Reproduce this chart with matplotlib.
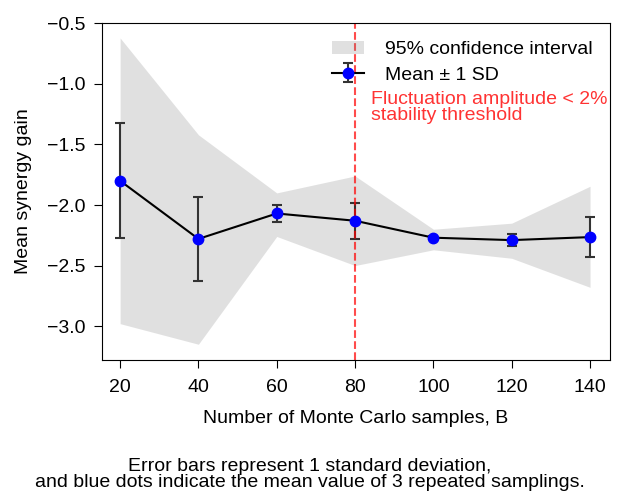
import matplotlib
matplotlib.use("Agg")
import matplotlib.pyplot as plt

plt.rcParams['font.family'] = ['Liberation Sans', 'DejaVu Sans']
plt.rcParams['font.size'] = 14

# Monte Carlo sample counts and results over 3 repeated samplings
samples_B = [20, 40, 60, 80, 100, 120, 140]
mean_gain = [-1.80, -2.28, -2.07, -2.13, -2.27, -2.29, -2.265]
sd_gain = [0.475, 0.35, 0.073, 0.15, 0.012, 0.05, 0.165]
ci_upper = [-0.62, -1.42, -1.90, -1.76, -2.20, -2.15, -1.845]
ci_lower = [-2.98, -3.15, -2.26, -2.50, -2.37, -2.44, -2.68]
threshold_B = 80

fig = plt.figure(figsize=(6.19, 4.93), dpi=100)
ax = fig.add_axes([0.1643, 0.2698, 0.8212, 0.6835])

ax.fill_between(samples_B, ci_lower, ci_upper, color='gray', alpha=0.24,
                linewidth=0, label='95% confidence interval')
ax.errorbar(samples_B, mean_gain, yerr=sd_gain, fmt='-o', color='black',
            ecolor='#333333', elinewidth=1.5, capsize=3.3, capthick=1.5,
            markerfacecolor='blue', markeredgecolor='blue', markersize=7.5,
            linewidth=1.5, label='Mean ± 1 SD')
ax.axvline(threshold_B, color='red', linestyle='--', linewidth=1.5, alpha=0.7)
ax.text(84, -1.06, 'Fluctuation amplitude < 2%\nstability threshold',
        color='red', alpha=0.8, va='top', ha='left', fontsize=14,
        linespacing=0.9)

ax.set_xlim(15.3, 145.1)
ax.set_ylim(-3.28, -0.497)
ax.set_xticks(samples_B)
ax.set_yticks([-3.0, -2.5, -2.0, -1.5, -1.0, -0.5])
ax.tick_params(axis='x', length=6, pad=8)
ax.tick_params(axis='y', length=5.5, pad=6)
ax.set_xlabel('Number of Monte Carlo samples, B', labelpad=10)
ax.set_ylabel('Mean synergy gain', labelpad=11)
ax.legend(loc='upper right', frameon=False, fontsize=14, handlelength=1.6,
          handletextpad=1.1, labelspacing=0.4)

fig.text(0.501, 0.004,
         'Error bars represent 1 standard deviation,\n'
         'and blue dots indicate the mean value of 3 repeated samplings.',
         ha='center', va='bottom', fontsize=14, linespacing=0.95)

fig.savefig('out.png', dpi=100)
